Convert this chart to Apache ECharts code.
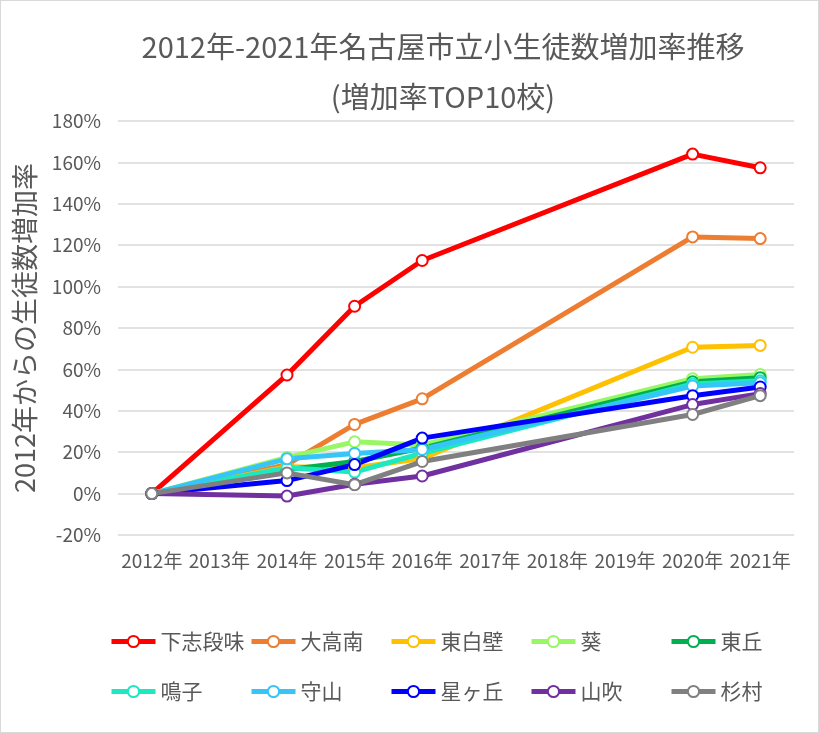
<!DOCTYPE html>
<html>
<head>
<meta charset="utf-8">
<script src="https://cdn.jsdelivr.net/npm/echarts@6/dist/echarts.min.js"></script>
<style>
html,body{margin:0;padding:0;background:#fff;}
#chart{width:817px;height:731px;border:1px solid #d9d9d9;}
</style>
</head>
<body>
<div id="chart"></div>
<script>
const categories = ['2012年','2013年','2014年','2015年','2016年','2017年','2018年','2019年','2020年','2021年'];
const yTicks = {min: -20, max: 180, interval: 20};
const schoolNames = ['下志段味','大高南','東白壁','葵','東丘','鳴子','守山','星ヶ丘','山吹','杉村'];
const schoolColors = ['#FF0000','#ED7D31','#FFC000','#99F766','#00B050','#1DE9C0','#36C5F8','#0000FF','#7030A0','#808080'];
const shimoshidami = [0, null, 57.3, 90.5, 112.6, null, null, null, 164.0, 157.4];
const odakaminami  = [0, null, 14.0, 33.4, 45.8, null, null, null, 124.0, 123.2];
const higashishirakabe = [0, null, 13.0, 12.5, 17.0, null, null, null, 70.7, 71.6];
const aoi          = [0, null, 17.5, 25.0, 23.5, null, null, null, 55.5, 57.5];
const higashioka   = [0, null, 11.5, 15.5, 22.0, null, null, null, 54.0, 56.0];
const naruko       = [0, null, 12.5, 10.4, 19.5, null, null, null, 53.0, 54.5];
const moriyama     = [0, null, 16.8, 19.4, 21.3, null, null, null, 52.0, 53.5];
const hoshigaoka   = [0, null, 6.3, 14.0, 26.8, null, null, null, 47.3, 51.5];
const yamabuki     = [0, null, -1.2, 4.5, 8.5, null, null, null, 43.0, 48.3];
const sugimura     = [0, null, 10.0, 4.3, 15.5, null, null, null, 38.2, 47.3];
const seriesValues = [shimoshidami, odakaminami, higashishirakabe, aoi, higashioka, naruko, moriyama, hoshigaoka, yamabuki, sugimura];

const FONT = '"Noto Sans CJK JP", "Noto Sans", sans-serif';
const GRAY = '#595959';

const chart = echarts.init(document.getElementById('chart'), null, {renderer: 'canvas'});

// one legend per item so the items sit on a regular 5-column grid
const legendCols = [103, 243, 383, 523, 663];
const legendRows = [625, 675];
const legends = schoolNames.map((name, i) => ({
  left: legendCols[i % 5],
  top: legendRows[Math.floor(i / 5)],
  orient: 'horizontal',
  itemWidth: 44,
  itemHeight: 14,
  itemGap: 5,
  lineStyle: {width: 5},
  data: [name],
  textStyle: {fontFamily: FONT, fontSize: 21, color: GRAY}
}));

chart.setOption({
  backgroundColor: '#fff',
  animation: false,
  title: {
    text: '2012年-2021年名古屋市立小生徒数増加率推移\n(増加率TOP10校)',
    left: 437,
    top: 16,
    textAlign: 'center',
    textStyle: {fontFamily: FONT, fontSize: 29, fontWeight: 'normal', color: GRAY, lineHeight: 50}
  },
  grid: {left: 117, right: 24, top: 120, bottom: 197, containLabel: false},
  legend: legends,
  xAxis: {
    type: 'category',
    data: categories,
    boundaryGap: true,
    axisLine: {show: false},
    axisTick: {show: false},
    axisLabel: {fontFamily: FONT, fontSize: 19, color: GRAY, margin: 16, interval: 0}
  },
  yAxis: {
    type: 'value',
    min: yTicks.min,
    max: yTicks.max,
    interval: yTicks.interval,
    name: '2012年からの生徒数増加率',
    nameLocation: 'middle',
    nameGap: 80,
    nameRotate: 90,
    nameTextStyle: {fontFamily: FONT, fontSize: 27, color: GRAY},
    axisLine: {show: false},
    axisTick: {show: false},
    axisLabel: {fontFamily: FONT, fontSize: 19, color: GRAY, margin: 17, formatter: '{value}%'},
    splitLine: {lineStyle: {color: '#d9d9d9', width: 1.5}}
  },
  series: schoolNames.map((name, i) => ({
    name: name,
    type: 'line',
    data: seriesValues[i],
    connectNulls: true,
    symbol: 'circle',
    symbolSize: 11,
    color: schoolColors[i],
    lineStyle: {width: 5, color: schoolColors[i]},
    itemStyle: {color: '#fff', borderColor: schoolColors[i], borderWidth: 2}
  }))
});
</script>
</body>
</html>
